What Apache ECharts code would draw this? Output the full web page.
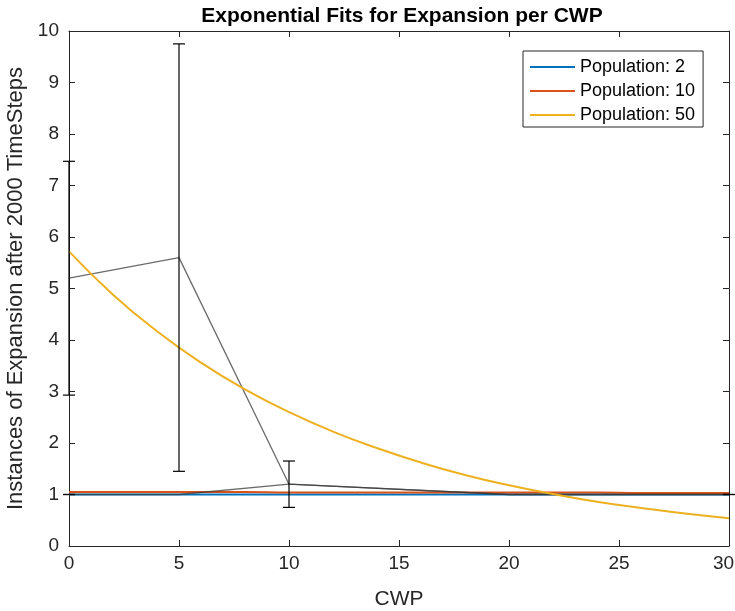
<!DOCTYPE html>
<html>
<head>
<meta charset="utf-8">
<script src="https://cdn.jsdelivr.net/npm/echarts@6/dist/echarts.min.js"></script>
<style>
  html, body { margin: 0; padding: 0; background: #fff; }
  #chart { width: 735px; height: 611px; }
</style>
</head>
<body>
<div id="chart"></div>
<script>
// Fitted curves (CWP vs. expansion count)
const fitX = [0, 2, 4, 6, 8, 10, 12, 14, 16, 18, 20, 22, 24, 26, 28, 30];
const fitPop2 = [1.0, 1.0, 1.0, 1.0, 1.0, 1.0, 1.0, 1.0, 1.0, 1.0, 1.0, 1.0, 1.0, 1.0, 1.0, 1.0];
const fitPop10 = [1.05, 1.05, 1.05, 1.05, 1.05, 1.04, 1.04, 1.04, 1.04, 1.04, 1.04, 1.04, 1.04, 1.03, 1.03, 1.03];
const fitPop50 = [5.72, 4.88, 4.17, 3.56, 3.04, 2.60, 2.22, 1.90, 1.62, 1.38, 1.18, 1.01, 0.86, 0.74, 0.63, 0.54];

// Measured means
const rawX = [0, 5, 10, 20, 30];
const rawHigh = [5.2, 5.6, 1.2, 1.0, 1.0];
const rawLow = [1.0, 1.0, 1.2, 1.0, 1.0];

// Error bars: position, mean, half-length
const errX = [0, 5, 10, 0, 30];
const errMean = [5.2, 5.6, 1.2, 1.0, 1.0];
const errDelta = [2.27, 4.15, 0.45, 0, 0];

const legendNames = ['Population: 2', 'Population: 10', 'Population: 50'];
const colors = ['#0072BD', '#D95319', '#EDB120'];

const FONT = 'Liberation Sans, Arial, sans-serif';
const AXIS_COLOR = '#262626';
const X_MAX = 30;

const pairs = (xs, ys) => xs.map((x, i) => [x, ys[i]]);

const chart = echarts.init(document.getElementById('chart'));

const axisCommon = {
  type: 'value',
  axisLine: { show: true, onZero: false, lineStyle: { color: AXIS_COLOR, width: 1 } },
  axisTick: { show: true, inside: true, length: 6, lineStyle: { color: AXIS_COLOR } },
  splitLine: { show: false }
};

chart.setOption({
  animation: false,
  backgroundColor: '#fff',
  title: {
    text: 'Exponential Fits for Expansion per CWP',
    left: 397, top: 1, textAlign: 'center',
    textStyle: { fontFamily: FONT, fontSize: 21, fontWeight: 'bold', color: '#000' }
  },
  grid: { left: 69, right: 6, top: 31, bottom: 65, outerBoundsMode: 'none', containLabel: false },
  legend: {
    data: legendNames,
    orient: 'vertical',
    left: 523, top: 51,
    padding: [7, 8, 3, 7],
    itemGap: 6,
    itemWidth: 45,
    itemHeight: 2,
    icon: 'rect',
    borderColor: AXIS_COLOR, borderWidth: 1,
    backgroundColor: '#fff',
    textStyle: { fontFamily: FONT, fontSize: 18, color: '#000' }
  },
  xAxis: [
    Object.assign({}, axisCommon, {
      min: 0, max: X_MAX, interval: 5, position: 'bottom',
      name: 'CWP', nameLocation: 'middle', nameGap: 43,
      nameTextStyle: { fontFamily: FONT, fontSize: 21, color: AXIS_COLOR },
      axisLabel: {
        fontFamily: FONT, fontSize: 19, color: AXIS_COLOR, margin: 8,
        // keep the last label inside the canvas edge
        formatter: v => (v === X_MAX ? '{edge|' + v + '}' : String(v)),
        rich: { edge: { fontFamily: FONT, fontSize: 19, color: AXIS_COLOR, padding: [0, 11, 0, 0] } }
      }
    }),
    Object.assign({}, axisCommon, {
      min: 0, max: X_MAX, interval: 5, position: 'top',
      axisLabel: { show: false }
    })
  ],
  yAxis: [
    Object.assign({}, axisCommon, {
      min: 0, max: 10, interval: 1, position: 'left',
      name: 'Instances of Expansion after 2000 TimeSteps', nameLocation: 'middle', nameGap: 39,
      nameTextStyle: { fontFamily: FONT, fontSize: 22, color: AXIS_COLOR },
      axisLabel: { fontFamily: FONT, fontSize: 19, color: AXIS_COLOR, margin: 10 }
    }),
    Object.assign({}, axisCommon, {
      min: 0, max: 10, interval: 1, position: 'right',
      axisLabel: { show: false }
    })
  ],
  series: [
    {
      name: 'raw-high', type: 'line', data: pairs(rawX, rawHigh),
      symbol: 'none', silent: true,
      lineStyle: { color: '#3a3a3a', width: 1.3, opacity: 0.75 }, z: 3
    },
    {
      name: 'raw-low', type: 'line', data: pairs(rawX, rawLow),
      symbol: 'none', silent: true,
      lineStyle: { color: '#3a3a3a', width: 1.3, opacity: 0.75 }, z: 3
    },
    {
      name: legendNames[0], type: 'line', data: pairs(fitX, fitPop2),
      symbol: 'none', smooth: true, color: colors[0],
      lineStyle: { color: colors[0], width: 2 }, z: 2
    },
    {
      name: legendNames[1], type: 'line', data: pairs(fitX, fitPop10),
      symbol: 'none', smooth: true, color: colors[1],
      lineStyle: { color: colors[1], width: 2 }, z: 2
    },
    {
      name: legendNames[2], type: 'line', data: pairs(fitX, fitPop50),
      symbol: 'none', smooth: true, color: colors[2],
      lineStyle: { color: colors[2], width: 2 }, z: 4
    },
    {
      name: 'errors', type: 'custom', silent: true, z: 5,
      data: errX.map((x, i) => [x, errMean[i] - errDelta[i], errMean[i] + errDelta[i]]),
      renderItem: function (params, api) {
        const lo = api.coord([api.value(0), api.value(1)]);
        const hi = api.coord([api.value(0), api.value(2)]);
        const half = 6;
        const style = { stroke: '#000', lineWidth: 1.2 };
        return {
          type: 'group',
          children: [
            { type: 'line', shape: { x1: lo[0], y1: lo[1], x2: hi[0], y2: hi[1] }, style: style },
            { type: 'line', shape: { x1: lo[0] - half, y1: lo[1], x2: lo[0] + half, y2: lo[1] }, style: style },
            { type: 'line', shape: { x1: hi[0] - half, y1: hi[1], x2: hi[0] + half, y2: hi[1] }, style: style }
          ]
        };
      }
    }
  ]
});
</script>
</body>
</html>
